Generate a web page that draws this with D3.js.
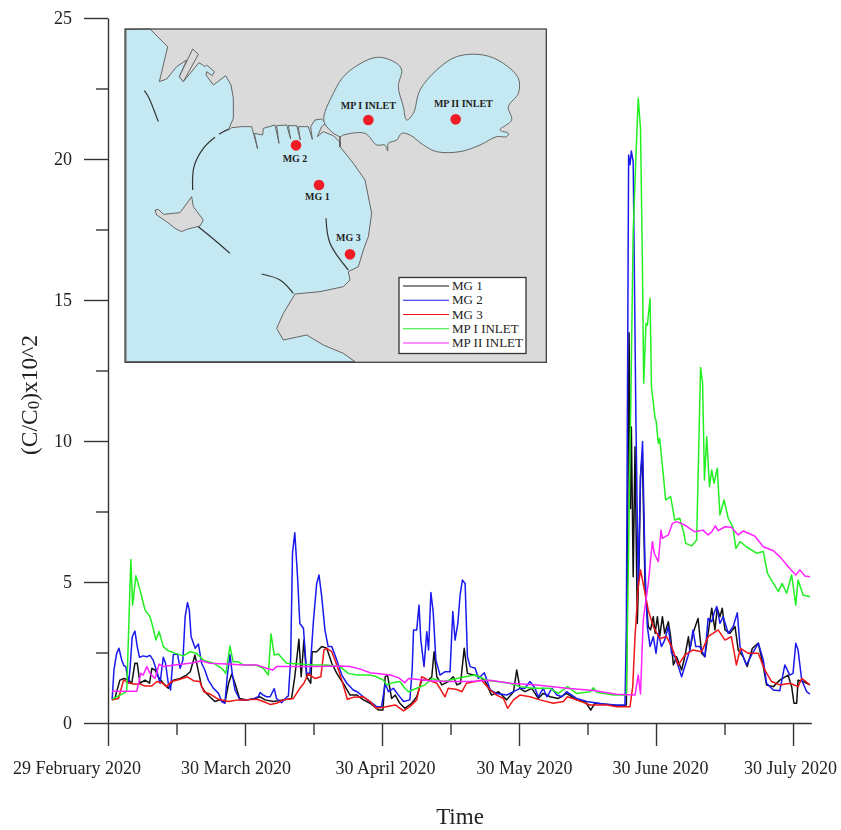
<!DOCTYPE html>
<html>
<head>
<meta charset="utf-8">
<script src="https://cdnjs.cloudflare.com/ajax/libs/d3/7.8.5/d3.min.js"></script>
<style>
    body { margin: 0; background: #fff; }
    svg { display: block; font-family: "Liberation Serif", serif; filter: blur(0.4px); }
    .domain, .tick line { stroke: #333; stroke-width: 1.4; }
    .tick text { fill: #222; }
</style>
</head>
<body>
<div id="chart"></div>
<script>
// series values, [day index, C/C0 x 10^2]
const mg1 = [[0.9,.82],[1.5,.87],[2.6,1.52],[3.5,1.58],[4.5,1.52],[5.2,1.41],[5.9,2.12],[6.4,2.12],[7,1.41],[8.1,1.52],[9.1,1.41],[9.6,1.94],[10.3,1.88],[11,1.64],[12.1,1.41],[13.2,1.23],[14.3,1.52],[15.8,1.58],[17.2,1.7],[18,1.82],[19.05,2.41],[19.8,1.82],[20.5,1.29],[21.2,1.11],[22.3,.93],[23.4,.76],[24.5,.82],[25.6,.72],[26.4,1.41],[27.1,1.74],[27.8,1.41],[28.8,.87],[30.4,.82],[32.2,.87],[33.3,.93],[34.4,.82],[36.2,.76],[38.4,.82],[40.2,.87],[40.9,1.64],[41.8,2.97],[42.3,1.64],[42.9,2.94],[43.5,1.64],[44.4,1.41],[44.7,2.53],[45.7,2.53],[46.8,2.71],[47.9,2.65],[49,2.12],[50.1,1.76],[51.5,1.41],[53,.99],[54.5,.99],[55.9,.82],[57.4,.7],[59.2,.46],[60.2,.46],[60.7,1.64],[61.2,1.7],[62.1,.87],[62.9,.99],[63.9,.7],[65,.52],[66.5,.7],[67.6,.93],[68.7,1.52],[70.2,1.52],[70.9,1.64],[71.4,2.53],[72,1.64],[73.1,1.35],[74.5,1.47],[75.6,1.64],[76.4,1.35],[77.2,1.41],[78,2.65],[78.7,1.76],[80,1.7],[81.5,1.64],[82.6,1.47],[84,.99],[85.5,1.11],[87.3,.82],[88.8,1.11],[89.5,1.88],[90.2,1.23],[91.3,1.11],[92.8,1.23],[94.2,.87],[95.3,1.05],[96.8,.93],[98.6,.87],[100.4,1.05],[102.6,.82],[104.5,.76],[105.7,.46],[106.6,.7],[108.5,.67],[111.4,.61],[113.2,.61],[113.5,.64],[114.1,13.84],[114.4,7.61],[114.6,10.5],[115,5.19],[115.4,9.8],[115.9,3.53],[116.3,5.78],[116.6,8.73],[117,9.56],[117.6,4.83],[118.3,3.42],[118.8,3.3],[119.4,3.77],[119.8,3.18],[120.3,3.77],[120.8,3.06],[121.4,3.77],[121.9,3.18],[122.7,3.59],[123.2,3.06],[123.8,2.06],[124.5,2.35],[125.6,1.88],[126.3,2.35],[127.1,3.06],[127.4,2.59],[128.1,3.18],[129.2,3.71],[130,2.47],[130.7,2.35],[131.4,3.18],[132.2,4.07],[132.9,3.3],[133.4,4.07],[134,3.77],[134.5,4.07],[135.1,3.3],[136.2,3.18],[137.3,3.42],[138,2.59],[139.1,2.35],[139.97,2],[141.1,2.65],[142.4,2.83],[143.5,2],[144.2,1.35],[145.7,1.29],[147.1,1.52],[148.9,1.7],[149.7,1.29],[150.2,.7],[150.8,.7],[151.1,1.52],[152.2,1.47],[153.7,1.35]];

const mg2 = [[.9,.82],[1.3,1.88],[1.9,2.47],[2.4,2.65],[3,2.23],[3.5,2.03],[3.9,2],[4.5,1.41],[4.8,1.88],[5.3,3.06],[5.9,3.26],[6.4,2.71],[6.9,2.33],[7.7,2.38],[8.5,2.35],[9.2,2.4],[9.9,2.23],[10.7,1.82],[11.4,1.41],[12.1,2.33],[12.6,2.12],[13.2,1.41],[13.7,1.17],[14.3,2.43],[15.2,2.45],[15.8,1.94],[16.4,2.23],[16.9,3.77],[17.4,4.27],[17.8,4.01],[18.2,3.06],[19.1,2.65],[19.8,2.8],[20.5,2.12],[21.2,1.88],[21.97,1.52],[23.1,1.23],[24.2,1.05],[24.9,.76],[25.6,.7],[26.1,1.64],[26.7,2.43],[27.2,1.76],[27.8,1.17],[28.9,.82],[30.4,.82],[31.8,.85],[32.9,.93],[33.3,1.08],[34,.99],[34.7,.93],[35.5,.93],[36.4,1.22],[36.9,.87],[38,.72],[38.8,.87],[39.5,.96],[40,2.29],[40.4,6.02],[40.9,6.75],[41.5,5.19],[42,3.53],[42.8,3.36],[43.5,1.76],[44.2,1.76],[45,3.65],[45.7,4.95],[46.2,5.25],[46.8,4.48],[47.5,3.3],[48.2,2.71],[49,2.71],[50.1,2.23],[51.2,1.7],[52.3,1.41],[53.7,1.17],[54.5,1.11],[55.9,.93],[57.4,.76],[58.8,.58],[59.9,.58],[60.7,1.41],[61.4,1.11],[62.5,1.23],[63.6,.99],[64.7,.76],[66.1,.82],[66.6,1.88],[66.9,3.3],[67.6,3.3],[68.1,4.18],[68.5,2.94],[69.2,2],[69.8,3.24],[70.2,2.59],[70.7,4.63],[71.2,3.95],[71.8,2.23],[72.7,1.7],[73.8,1.82],[74.9,1.82],[75.5,3.95],[76,2.94],[76.6,3.53],[77.1,4.54],[77.6,5.07],[78.2,4.95],[78.7,2.35],[79.3,2],[80.4,1.94],[81.1,1.58],[82.4,1.78],[83.7,1.17],[85.1,1.05],[87.3,.99],[88.8,1.11],[90.2,1.23],[91.3,1.23],[92.4,1.47],[93.5,1.23],[94.2,.93],[95.3,1.23],[96.1,.93],[97.2,1.23],[98.3,.99],[99.4,.93],[100.4,1.11],[102.6,.87],[104.8,.76],[108.5,.67],[111.4,.64],[113.2,.64],[113.5,3.42],[114,20.14],[114.3,19.8],[114.6,20.28],[115,19.9],[115.6,10.74],[116.1,4.83],[116.6,8.73],[117.05,9.98],[117.6,5.43],[118.1,3.42],[118.7,2.71],[119.4,3.06],[120,2.47],[120.5,3.18],[121.2,2.71],[121.9,2.94],[122.7,3.42],[123.4,2.47],[124.1,2.35],[124.9,2],[125.6,1.64],[126.3,2],[127.4,2.59],[128.1,3.3],[128.7,2.71],[129.6,2.71],[130.7,2.35],[131.4,3.71],[132.2,3.59],[132.7,3.89],[133.3,4.13],[134,3.53],[134.7,3.77],[135.8,3.18],[136.9,3.42],[137.8,3.91],[138.4,2.71],[139.1,2.35],[139.8,2.06],[140.9,2.41],[142.4,2.83],[143.5,2.23],[144.2,1.41],[145.7,1.17],[147.1,1.14],[148.2,2.06],[149.3,1.7],[150,1.76],[150.6,2.83],[151.1,2.59],[151.9,1.52],[153,1.11],[153.7,1.02]];

const mg3 = [[.9,.82],[2.3,.87],[3.4,1.52],[4.5,1.43],[5.5,1.38],[7,1.38],[8.1,1.31],[9.6,1.31],[10.7,1.47],[11.8,1.43],[12.8,1.29],[13.9,1.47],[15.8,1.55],[17.4,1.64],[18.7,1.5],[20.1,1.47],[21,1.11],[22.3,1.03],[24.2,.84],[26.4,.76],[28.5,.82],[30.4,.82],[32.6,.84],[34,.76],[35.5,.66],[36.9,.7],[38.4,.82],[40.6,.87],[42,1.23],[42.9,1.41],[43.8,1.74],[45.3,1.58],[46.6,1.64],[47.3,2.59],[47.9,2.65],[49,2.53],[50.1,2.06],[51.2,1.52],[52.4,.84],[53.7,.91],[55.9,.93],[57.4,.76],[58.7,.52],[60.3,.56],[62.9,.64],[64.7,.43],[66.1,.58],[67.6,.82],[68.7,1.64],[70.2,1.52],[72,1.41],[73.1,1.11],[73.8,.93],[74.5,1.23],[76.4,1.19],[77.5,1.11],[78.5,1.41],[80.4,1.47],[81.8,1.52],[83.7,1.17],[85.1,.99],[86.6,.87],[87.5,.52],[88.8,.82],[90.2,.99],[92.4,.93],[94.6,.82],[97.5,.7],[99.7,.76],[100.6,.93],[102.6,.82],[105.6,.64],[109.2,.64],[111.4,.58],[114.3,.58],[114.9,1.29],[115.4,3.06],[116.1,4.83],[116.6,5.43],[117.6,4.6],[118.3,4],[119.4,3.42],[120.8,3],[122.3,3.06],[123.4,2.71],[124.9,2.06],[126.3,2.41],[128.1,2.59],[130,2.53],[131.4,3.06],[133.6,3.3],[135.1,2.94],[136.5,3.06],[137.6,2.06],[138.5,2.65],[140.2,2.47],[142.4,2.47],[143.8,1.88],[145.3,1.47],[147.1,1.35],[149.3,1.41],[151.1,1.29],[151.9,1.58],[153.7,1.35]];

const mp1 = [[1,.85],[4.1,1.11],[5,5.8],[5.4,4.18],[6.1,5.22],[7,4.72],[8.1,4.01],[9.2,3.77],[9.8,3.42],[10.5,2.94],[11.2,3.24],[12.1,2.71],[13.2,2.56],[14.7,2.47],[16.5,2.38],[18,2.53],[19.4,2.47],[20.9,2.23],[23.1,2.12],[24.9,1.94],[25.8,1.76],[26.7,2.73],[27.4,2.17],[28.5,2.17],[29.6,2.06],[32.2,2.06],[34,1.94],[35.1,1.7],[35.7,3.16],[36.4,2.41],[37.3,2.45],[39.1,2.12],[42,2.09],[45,2.06],[47.9,2.06],[50.8,2],[52.6,1.76],[54.5,1.7],[57.4,1.7],[58.8,1.64],[60.3,1.52],[61,1.35],[62.5,1.44],[63.9,1.47],[65,1.23],[65.8,1.11],[67.6,1.23],[69.4,1.35],[70.9,1.58],[73.4,1.47],[75.6,1.55],[78.2,1.64],[80.4,1.7],[82.9,1.52],[85.1,1.47],[88,1.41],[90.2,1.29],[93.1,1.23],[96.8,1.23],[98.6,1.05],[100.6,1.29],[102.6,1.05],[105.6,1.11],[106.3,1.25],[107,1.09],[110.7,.99],[113.5,.99],[113.9,5.07],[114.6,12.81],[115,17.4],[115.6,20.08],[116.1,22.15],[116.6,21.09],[117,16.54],[117.3,12.05],[117.8,14.17],[118.1,14.11],[118.7,15.06],[119,11.93],[119.8,10.8],[120,10.74],[120.5,9.92],[120.8,10.09],[121.6,8.79],[122.1,7.91],[123.2,8.03],[124.1,7.2],[125.2,7.26],[126.1,6.73],[126.5,6.37],[127.8,6.28],[128.9,6.49],[129.75,12.61],[130.2,12.05],[130.6,8.62],[131.1,10.15],[131.7,8.38],[132.2,8.97],[132.7,8.5],[133.4,9.03],[134,7.38],[134.9,7.91],[135.8,7.26],[136.8,6.96],[137.5,6.19],[138.4,6.43],[139.8,6.25],[142,6.02],[143.5,6.08],[144.4,5.31],[145.7,4.95],[146.8,4.66],[147.6,4.95],[148.6,4.6],[149.7,5.25],[150.6,4.18],[151.1,5.07],[152.2,4.54],[153.7,4.48]];

const mp2 = [[.9,1.13],[3.4,1.13],[6.3,1.13],[7.2,1.76],[7.7,1.7],[8.5,2],[9.2,1.76],[10.3,1.58],[11.2,2.09],[12.1,2],[12.8,2.02],[16.5,2.09],[18.7,2.14],[20.5,2.21],[22.3,2.12],[26,2.09],[29.6,2.06],[32.6,2.06],[34.7,1.94],[36.1,1.88],[36.9,2],[42,2],[45.7,2],[50.8,2.02],[53,2],[55.2,1.91],[57.4,1.78],[61.8,1.7],[63.6,1.61],[65,1.43],[65.8,1.58],[70.5,1.5],[74.9,1.47],[79.3,1.47],[83.7,1.52],[88,1.41],[93.9,1.35],[100.4,1.23],[106.3,1.15],[111.4,1.02],[115.4,.99],[116.1,1.7],[116.6,1.03],[117.2,3.65],[118.3,4.95],[119.2,6.43],[119.6,6.02],[120.5,5.72],[121.1,6.84],[121.4,6.55],[122.7,6.67],[123.6,7.08],[124.5,7.14],[126.3,7.02],[128.5,6.78],[130.3,6.84],[131.4,6.67],[132.2,6.78],[133,6.99],[133.6,6.82],[135.1,6.96],[136.5,6.94],[138,6.67],[139.1,6.81],[141.6,6.63],[143.5,6.25],[145.7,6.11],[147.1,5.9],[149.3,5.48],[150.6,5.25],[151.5,5.43],[152.6,5.21],[153.7,5.19]];

const seriesNames = ["MG 1", "MG 2", "MG 3", "MP I INLET", "MP II INLET"];
const seriesColors = ["#111111", "#1a1aee", "#f01414", "#22f022", "#ff22ff"];
const seriesData = [mg1, mg2, mg3, mp1, mp2];

const yTicks = [0, 2.5, 5, 7.5, 10, 12.5, 15, 17.5, 20, 22.5, 25];
const xTicks = [0, 15, 30, 45, 60, 75, 90, 105, 120, 135, 150];
const xLabels = {0: "29 February 2020", 30: "30 March 2020", 60: "30 April 2020",
    90: "30 May 2020", 120: "30 June 2020", 150: "30 July 2020"};
const xLabelShift = {0: -31.5, 30: -9.5, 60: 3, 90: 5, 120: 4, 150: -3};

// inset map, in map units
const seaOutline = [[18,28],[90,27],[143,80],[118,185],[140,177],[170,140],[200,120],[178,170],[190,185],[237,128],[255,140],[260,135],[283,155],[277,167],[260,155],[258,165],[280,195],[317,167],[333,195],[340,235],[340,295],[325,330],[335,323],[365,320],[395,320],[413,387],[403,340],[428,345],[430,325],[465,315],[477,370],[470,317],[500,315],[512,357],[505,317],[530,317],[541,360],[535,320],[565,320],[577,358],[572,320],[585,300],[605,297],[618,310],[605,320],[592,350],[610,335],[640,347],[660,367],[660,380],[700,430],[735,480],[755,580],[745,650],[730,690],[715,740],[685,755],[690,780],[670,800],[600,815],[525,822],[490,880],[470,925],[490,960],[560,945],[610,975],[670,1000],[705,1025],[18,1025]];
const marPiccolo = [[612,305],[640,220],[680,160],[770,112],[830,130],[845,150],[835,200],[850,260],[860,300],[880,280],[900,210],[950,150],[1010,110],[1090,105],[1150,130],[1195,175],[1195,220],[1165,260],[1175,300],[1140,330],[1165,340],[1160,350],[1130,350],[1080,375],[1020,395],[950,395],[910,375],[870,345],[845,340],[830,360],[805,370],[803,393],[795,375],[770,375],[735,340],[670,345],[660,350]];
const sanVito = [[105,570],[115,568],[130,583],[180,578],[215,530],[220,560],[250,600],[240,618],[200,628],[185,635],[165,625],[140,605],[110,585]];
const pier = [[178,170],[218,87],[235,103],[190,185]];
const darkLines = [
    [[73,212],[85,230],[115,305]],
    [[235,620],[290,665],[330,700]],
    [[425,762],[480,780],[520,820]],
    [[218,510],[222,440],[250,385],[285,352]],
    [[297,343],[310,335],[325,328]],
    [[618,595],[630,670],[685,750]],
    [[660,350],[660,380]]
];
const sites = [
    {name: "MP I INLET", x: 745, y: 300, lx: 745, ly: 256},
    {name: "MP II INLET", x: 1007, y: 298, lx: 1030, ly: 250},
    {name: "MG 2", x: 528, y: 376, lx: 525, ly: 416},
    {name: "MG 1", x: 597, y: 495, lx: 592, ly: 528},
    {name: "MG 3", x: 690, y: 703, lx: 685, ly: 652}
];

const width = 841, height = 830;
const svg = d3.select("#chart").append("svg").attr("width", width).attr("height", height);

const x = d3.scaleLinear().domain([0, 154]).range([108, 811.3]);
const y = d3.scaleLinear().domain([0, 25]).range([723, 18]);

// series
const line = d3.line().x(d => x(d[0])).y(d => y(d[1]));
svg.selectAll(".series").data(seriesData).enter().append("path")
    .attr("class", "series")
    .attr("d", line)
    .attr("fill", "none")
    .attr("stroke", (d, i) => seriesColors[i])
    .attr("stroke-width", 1.5)
    .attr("stroke-linejoin", "round");

// axes
const yAxis = svg.append("g").attr("transform", "translate(108,0)")
    .call(d3.axisLeft(y).tickValues(yTicks).tickSize(24).tickSizeOuter(0).tickPadding(12)
        .tickFormat(d => d % 5 === 0 ? d : ""));
yAxis.selectAll(".tick line").attr("x2", d => d % 5 === 0 ? -24 : -12);
yAxis.selectAll("text").style("font-size", "18px").style("font-family", "Liberation Serif");

const xAxis = svg.append("g").attr("transform", "translate(0,723)")
    .call(d3.axisBottom(x).tickValues(xTicks).tickSize(12).tickSizeOuter(0)
        .tickFormat(d => xLabels[d] || ""));
xAxis.selectAll(".tick line").attr("y2", d => xLabels[d] ? 23 : 12);
xAxis.selectAll(".tick text")
    .attr("y", 38)
    .attr("dx", d => xLabelShift[d] || 0)
    .style("font-size", "18px")
    .style("font-family", "Liberation Serif");

// axis titles
svg.append("text")
    .attr("x", 460).attr("y", 824)
    .attr("text-anchor", "middle")
    .style("font-size", "23px")
    .attr("fill", "#222")
    .text("Time");

const yTitle = svg.append("text")
    .attr("transform", "translate(37,395) rotate(-90)")
    .attr("text-anchor", "middle")
    .style("font-size", "23.5px")
    .attr("fill", "#222");
yTitle.append("tspan").text("(C/C");
yTitle.append("tspan").attr("baseline-shift", "-10%").style("font-size", "17px").text("0");
yTitle.append("tspan").text(")x10^2");

// inset map
const mapX = d3.scaleLinear().domain([0, 1290]).range([120, 550]);
const mapY = d3.scaleLinear().domain([0, 1050]).range([20, 370]);
const mapLine = d3.line().x(d => mapX(d[0])).y(d => mapY(d[1]));
const inset = svg.append("g");

inset.append("rect")
    .attr("x", mapX(15)).attr("y", mapY(27))
    .attr("width", mapX(1279) - mapX(15)).attr("height", mapY(1027) - mapY(27))
    .attr("fill", "#dadada");

inset.append("path")
    .attr("d", mapLine(seaOutline) + "Z")
    .attr("fill", "#c5e9f2")
    .attr("stroke", "#666")
    .attr("stroke-width", 1)
    .attr("stroke-linejoin", "round");
inset.append("path")
    .attr("d", d3.line().x(d => mapX(d[0])).y(d => mapY(d[1])).curve(d3.curveCatmullRomClosed)(marPiccolo))
    .attr("fill", "#c5e9f2")
    .attr("stroke", "#666")
    .attr("stroke-width", 1);
[sanVito, pier].forEach(shape => {
    inset.append("path")
        .attr("d", mapLine(shape) + "Z")
        .attr("fill", "#dadada")
        .attr("stroke", "#666")
        .attr("stroke-width", 1);
});
const darkCurve = d3.line().x(d => mapX(d[0])).y(d => mapY(d[1])).curve(d3.curveCatmullRom);
darkLines.forEach(l => {
    inset.append("path")
        .attr("d", darkCurve(l))
        .attr("fill", "none")
        .attr("stroke", "#333")
        .attr("stroke-width", 1.2);
});
// redraw the frame above the sea polygon
inset.append("rect")
    .attr("x", mapX(15)).attr("y", mapY(27))
    .attr("width", mapX(1279) - mapX(15)).attr("height", mapY(1027) - mapY(27))
    .attr("fill", "none")
    .attr("stroke", "#444")
    .attr("stroke-width", 1.3);

inset.selectAll(".site").data(sites).enter().append("circle")
    .attr("class", "site")
    .attr("cx", d => mapX(d.x)).attr("cy", d => mapY(d.y))
    .attr("r", 5.3)
    .attr("fill", "#ee1c25");
inset.selectAll(".site-label").data(sites).enter().append("text")
    .attr("class", "site-label")
    .attr("x", d => mapX(d.lx)).attr("y", d => mapY(d.ly) + 3.5)
    .attr("text-anchor", "middle")
    .style("font-size", "10px")
    .style("font-weight", "bold")
    .attr("fill", "#222")
    .text(d => d.name);

// legend
const legend = svg.append("g");
legend.append("rect")
    .attr("x", 399).attr("y", 277.5).attr("width", 127).attr("height", 76)
    .attr("fill", "#fff").attr("stroke", "#333").attr("stroke-width", 1.3);
const legendRows = d3.scalePoint().domain(seriesNames).range([286, 343]);
seriesNames.forEach((name, i) => {
    legend.append("line")
        .attr("x1", 403).attr("x2", 449)
        .attr("y1", legendRows(name)).attr("y2", legendRows(name))
        .attr("stroke", seriesColors[i]).attr("stroke-width", 1.2);
    legend.append("text")
        .attr("x", 452).attr("y", legendRows(name) + 4)
        .style("font-size", "13px")
        .attr("fill", "#222")
        .text(name);
});
</script>
</body>
</html>
